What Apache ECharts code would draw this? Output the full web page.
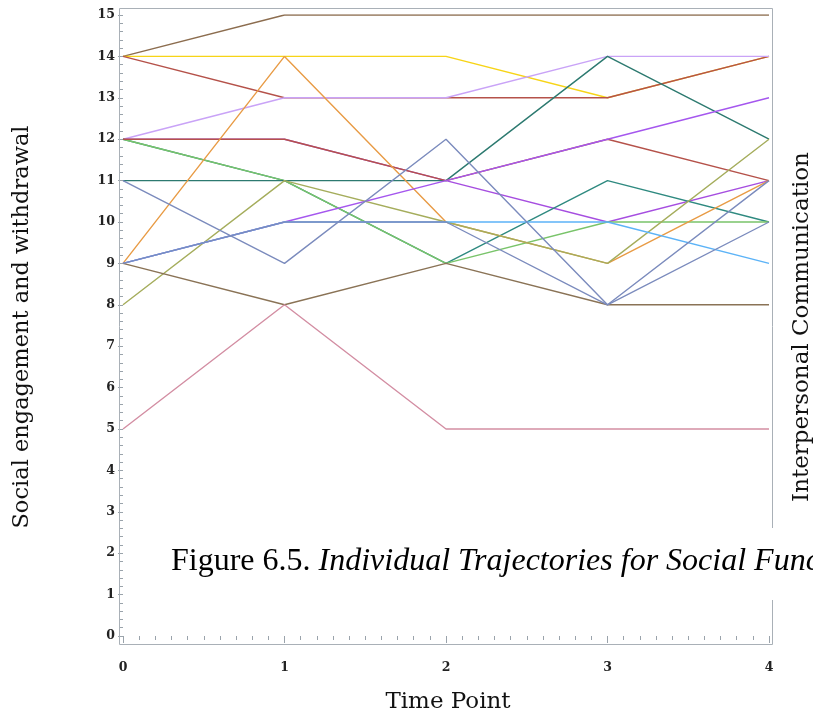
<!DOCTYPE html>
<html>
<head>
<meta charset="utf-8">
<script src="https://cdn.jsdelivr.net/npm/echarts@6/dist/echarts.min.js"></script>
<style>
html,body{margin:0;padding:0;background:#fff;}
#chart{width:813px;height:718px;}
</style>
</head>
<body>
<div id="chart"></div>
<script>
// Time points
var timePoints = [0, 1, 2, 3, 4];
var xTickLabels = ['0', '1', '2', '3', '4'];
var yTickLabels = ['0','1','2','3','4','5','6','7','8','9','10','11','12','13','14','15'];

// Individual trajectories (score at time 0..4)
var subj01 = [14, 15, 15, 15, 15];
var subj02 = [14, 14, 14, 13, 14];
var subj03 = [14, 13, 13, 13, 14];
var subj04 = [12, 13, 13, 14, 14];
var subj05 = [12, 12, 11, 10, 11];
var subj06 = [12, 11, 9, 11, 10];
var subj07 = [12, 11, 9, 10, 10];
var subj08 = [11, 11, 11, 14, 12];
var subj09 = [12, 12, 11, 12, 11];
var subj10 = [9, 14, 10, 9, 11];
var subj11 = [8, 11, 10, 9, 12];
var subj12 = [9, 10, 11, 12, 13];
var subj13 = [9, 10, 10, 10, 9];
var subj14 = [9, 8, 9, 8, 8];
var subj15 = [5, 8, 5, 5, 5];
var subj16 = [11, 9, 12, 8, 10];
var subj17 = [9, 10, 10, 8, 11];

var subjects = [subj01, subj02, subj03, subj04, subj05, subj06, subj07, subj08, subj09,
                subj10, subj11, subj12, subj13, subj14, subj15, subj16, subj17];
var colors = ['#8c6d4f', '#f7d417', '#b5524a', '#c9a3f7', '#a64ee0', '#2f8a80', '#79c46a',
              '#2d7a70', '#b5524a', '#e89b45', '#a5ad5c', '#a557ee', '#5cb3f7', '#8a7356',
              '#d38ea3', '#7b8bbd', '#7b8bbd'];

var series = subjects.map(function (vals, i) {
  return {
    type: 'line',
    data: vals.map(function (v, j) { return [timePoints[j], v]; }),
    symbol: 'none',
    lineStyle: { color: colors[i], width: 1.4 },
    itemStyle: { color: colors[i] },
    silent: true,
    z: 3
  };
});

var tickColor = '#9aa3ab';
var labelFont = { fontFamily: 'DejaVu Serif', fontSize: 12.5, fontWeight: 'bold', color: '#222' };

var chart = echarts.init(document.getElementById('chart'), null, { renderer: 'canvas' });
chart.setOption({
  animation: false,
  backgroundColor: '#fff',
  grid: { left: 123, top: 15, width: 646, height: 621, containLabel: false },
  xAxis: {
    type: 'value', min: 0, max: 4, interval: 1, offset: 9,
    axisLine: { show: false },
    axisTick: { show: true, length: 7, lineStyle: { color: tickColor } },
    minorTick: { show: true, splitNumber: 10, length: 4, lineStyle: { color: tickColor } },
    splitLine: { show: false },
    axisLabel: Object.assign({ margin: 16, formatter: function (v) { return xTickLabels[v]; } }, labelFont)
  },
  yAxis: {
    type: 'value', min: 0, max: 15, interval: 1, offset: 4,
    axisLine: { show: false },
    axisTick: { show: true, length: 5, lineStyle: { color: tickColor } },
    minorTick: { show: true, splitNumber: 5, length: 3, lineStyle: { color: tickColor } },
    splitLine: { show: false },
    axisLabel: Object.assign({ margin: 4, formatter: function (v) { return yTickLabels[v]; } }, labelFont)
  },
  series: series,
  graphic: [
    { type: 'rect', shape: { x: 119.5, y: 8.5, width: 653, height: 636 },
      style: { fill: 'none', stroke: '#a9b0b7', lineWidth: 1 }, z: 1, silent: true },
    { type: 'rect', shape: { x: 165, y: 528, width: 648, height: 72 },
      style: { fill: '#fff' }, z: 10, silent: true },
    { type: 'text', x: 171, y: 562, z: 11, silent: true,
      style: {
        text: '{a|Figure 6.5. }{b|Individual Trajectories for Social Functioning}',
        textVerticalAlign: 'middle',
        rich: {
          a: { fontFamily: 'Liberation Serif', fontSize: 32, fill: '#000', color: '#000' },
          b: { fontFamily: 'Liberation Serif', fontSize: 32, fontStyle: 'italic', fill: '#000', color: '#000' }
        }
      } },
    { type: 'text', x: 448, y: 702, z: 11, silent: true,
      style: { text: 'Time Point', fontFamily: 'DejaVu Serif', fontSize: 23, fill: '#111',
               textAlign: 'center', textVerticalAlign: 'middle' } },
    { type: 'text', x: 22, y: 327, rotation: Math.PI / 2, z: 11, silent: true,
      style: { text: 'Social engagement and withdrawal', fontFamily: 'DejaVu Serif', fontSize: 22.5, fill: '#111',
               textAlign: 'center', textVerticalAlign: 'middle' } },
    { type: 'text', x: 802, y: 327, rotation: Math.PI / 2, z: 11, silent: true,
      style: { text: 'Interpersonal Communication', fontFamily: 'DejaVu Serif', fontSize: 23, fill: '#111',
               textAlign: 'center', textVerticalAlign: 'middle' } }
  ]
});
</script>
</body>
</html>
